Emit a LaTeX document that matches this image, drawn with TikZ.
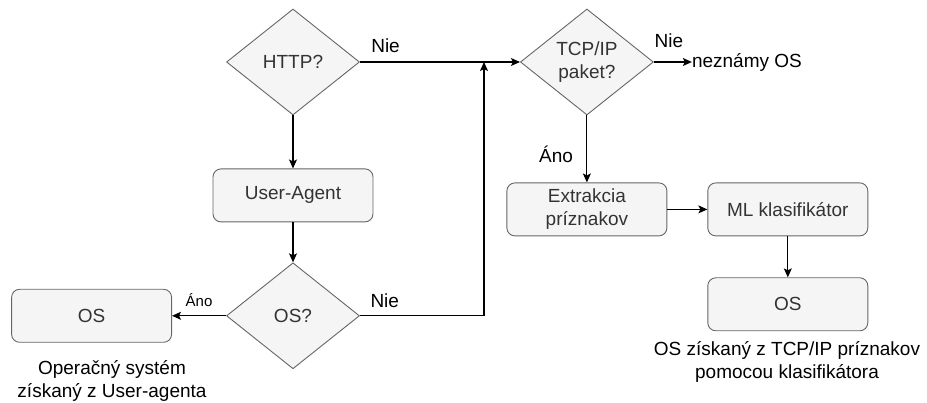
\documentclass[tikz,border=0pt]{standalone}
\usepackage{fontspec}
\setmainfont{Liberation Sans}
\usetikzlibrary{positioning,shapes.geometric,arrows.meta}
\definecolor{boxfill}{HTML}{F5F5F5}
\definecolor{boxline}{HTML}{666666}
\definecolor{boxtext}{HTML}{333333}

\begin{document}
\begin{tikzpicture}[
    x=1pt, y=-1pt,
    font=\fontsize{19}{23}\selectfont,
    block/.style={rectangle, rounded corners=8pt, draw=boxline, line width=0.9pt, fill=boxfill, text=boxtext, minimum width=160pt, minimum height=53pt, align=center},
    decision/.style={diamond, draw=boxline, line width=0.9pt, fill=boxfill, text=boxtext, minimum width=133pt, minimum height=106pt, inner sep=0pt, align=center},
    arrow/.style={->, >={Stealth[length=9pt, width=8pt, inset=2pt]}, line width=1.1pt}
]
\useasboundingbox (0,0) rectangle (927,403);

\node[decision] (http) at (293,62) {HTTP?};
\node[block, below=53pt of http] (ua) {User-Agent};
\node[decision, below=40pt of ua] (osq) {OS?};
\node[block, left=54pt of osq] (osua) {OS};
\node[decision, right=160pt of http] (tcp) {TCP/IP\\paket?};
\node[block, below=67pt of tcp] (feat) {Extrakcia\\príznakov};
\node[block, right=40pt of feat] (ml) {ML klasifikátor};
\node[block, below=41pt of ml] (osml) {OS};
\node[right=38pt of tcp.east, inner sep=0pt] (unknown) {neznámy OS};
\node[align=center] (capua) at (112,381) {Operačný systém\\získaný z User-agenta};
\node[align=center] (capml) at (787,362) {OS získaný z TCP/IP príznakov\\pomocou klasifikátora};
\coordinate (merge) at (484,62);

\draw[arrow] (http) -- (ua);
\draw[arrow] (ua) -- (osq);
\draw[arrow] (osq) -- node[above=5pt, font=\fontsize{15}{18}\selectfont] {Áno} (osua);
\draw[arrow] (osq.east) -| node[pos=0.1, above=4pt] {Nie} (merge);
\draw[arrow] (http) -- node[pos=0.16, above=5pt] {Nie} (tcp);
\draw[arrow] (tcp) -- node[pos=0, above right=10pt and -3pt] {Nie} (unknown);
\draw[arrow] (tcp) -- node[pos=0.58, left=10pt] {Áno} (feat);
\draw[arrow] (feat) -- (ml);
\draw[arrow] (ml) -- (osml);

\end{tikzpicture}
\end{document}
